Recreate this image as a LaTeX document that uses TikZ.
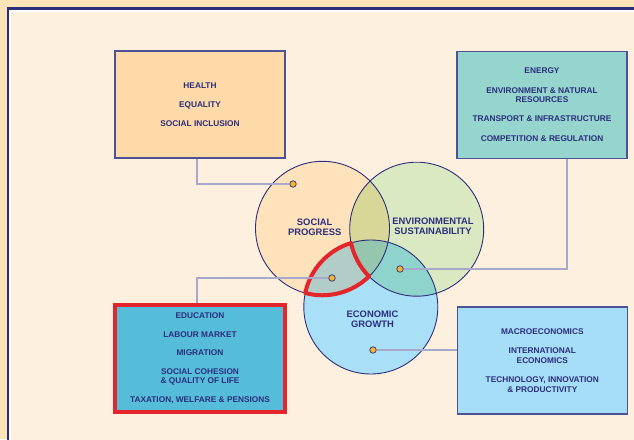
\documentclass[tikz,border=0pt]{standalone}
\usepackage{fontspec}
\setmainfont{Liberation Sans}
\usetikzlibrary{positioning}
\definecolor{outerbg}{HTML}{FDE3B8}
\definecolor{innerbg}{HTML}{FEF0DF}
\definecolor{navy}{HTML}{2B2E7C}
\definecolor{boxline}{HTML}{4E5194}
\definecolor{linkcol}{HTML}{A8A8CC}
\definecolor{pinfill}{HTML}{F5B336}
\definecolor{alarm}{HTML}{E4252B}
\definecolor{healthfill}{HTML}{FDDAA8}
\definecolor{energyfill}{HTML}{95D5CE}
\definecolor{edufill}{HTML}{55BDDA}
\definecolor{macrofill}{HTML}{A7DEF7}
\definecolor{socfill}{HTML}{FEE2BC}
\definecolor{envfill}{HTML}{DBE9C3}
\definecolor{grofill}{HTML}{A9E0F8}
\definecolor{sefill}{HTML}{D9D797}
\definecolor{sgfill}{HTML}{B2CCC7}
\definecolor{egfill}{HTML}{8FD4CC}
\definecolor{segfill}{HTML}{96C6AE}
\tikzset{
  topic/.style={draw=boxline, line width=1.3pt, minimum width=170pt,
    minimum height=107pt, inner sep=0pt, align=center, text=navy,
    font=\fontsize{8.3}{9.7}\selectfont\bfseries},
  pin/.style={circle, draw=navy, fill=pinfill, line width=0.7pt,
    inner sep=0pt, minimum size=6.5pt},
  link/.style={draw=linkcol, line width=1.2pt},
  ring/.style={draw=navy, line width=0.9pt},
  ringlabel/.style={text=navy, align=center,
    font=\fontsize{9.4}{10}\selectfont\bfseries},
}
\begin{document}
\begin{tikzpicture}[x=1pt,y=-1pt]
  \useasboundingbox (0,0) rectangle (634,439);
  \fill[outerbg] (0,0) rectangle (634,439);
  \fill[innerbg] (8,9) rectangle (700,500);
  \draw[white, line width=1.5pt] (10.2,11) rectangle (700,500);
  \draw[navy, line width=2.5pt] (7.9,8.7) rectangle (700,500);

  \coordinate (soc) at (322.5,228.3);
  \coordinate (env) at (416.7,229.2);
  \coordinate (gro) at (370.8,307);
  \fill[socfill] (soc) circle[radius=67];
  \fill[envfill] (env) circle[radius=67];
  \fill[grofill] (gro) circle[radius=67];
  \begin{scope}
    \clip (soc) circle[radius=67];
    \fill[sefill] (env) circle[radius=67];
    \fill[sgfill] (gro) circle[radius=67];
  \end{scope}
  \begin{scope}
    \clip (env) circle[radius=67];
    \fill[egfill] (gro) circle[radius=67];
    \clip (soc) circle[radius=67];
    \fill[segfill] (gro) circle[radius=67];
  \end{scope}
  \draw[ring] (soc) circle[radius=67];
  \draw[ring] (env) circle[radius=67];
  \draw[ring] (gro) circle[radius=67];
  \draw[alarm, line width=4pt, line join=round]
    (305.2,293.1) arc[start angle=192, end angle=252.9, radius=67]
    arc[start angle=168.1, end angle=135.2, radius=67]
    arc[start angle=45.9, end angle=105, radius=67] -- cycle;

  \node[ringlabel] (soclabel) at (314.7,227.7) {SOCIAL\\PROGRESS};
  \node[ringlabel] (envlabel) at (433,226.7) {ENVIRONMENTAL\\SUSTAINABILITY};
  \node[ringlabel] (grolabel) at (372.5,319.7) {ECONOMIC\\GROWTH};

  \node[topic, fill=healthfill] (health) at (200,104.5)
    {HEALTH\\[9.5pt]EQUALITY\\[9.5pt]SOCIAL INCLUSION};
  \node[topic, fill=energyfill] (energy) at (542,105)
    {ENERGY\\[9.6pt]ENVIRONMENT \& NATURAL\\RESOURCES\\[8.5pt]TRANSPORT \& INFRASTRUCTURE\\[11pt]COMPETITION \& REGULATION};
  \node[topic, fill=edufill, draw=alarm, line width=4pt] (edu) at (200,358.3)
    {EDUCATION\\[8.8pt]LABOUR MARKET\\[8.8pt]MIGRATION\\[8.8pt]SOCIAL COHESION\\\& QUALITY OF LIFE\\[8.8pt]TAXATION, WELFARE \& PENSIONS};
  \node[topic, fill=macrofill] (macro) at (542.3,360.5)
    {MACROECONOMICS\\[9pt]INTERNATIONAL\\ECONOMICS\\[9.5pt]TECHNOLOGY, INNOVATION\\\& PRODUCTIVITY};

  \node[pin] (socpin) at (293,184) {};
  \node[pin] (envpin) at (400,269) {};
  \node[pin] (sgpin) at (332,278) {};
  \node[pin] (gropin) at (373,350) {};

  \begin{scope}[link]
    \draw ([xshift=-3]health.south) |- (socpin);
    \draw ([xshift=25]energy.south) |- (envpin);
    \draw ([xshift=-3]edu.north) |- (sgpin);
    \draw (gropin) -- (macro.west |- gropin);
  \end{scope}
\end{tikzpicture}
\end{document}
